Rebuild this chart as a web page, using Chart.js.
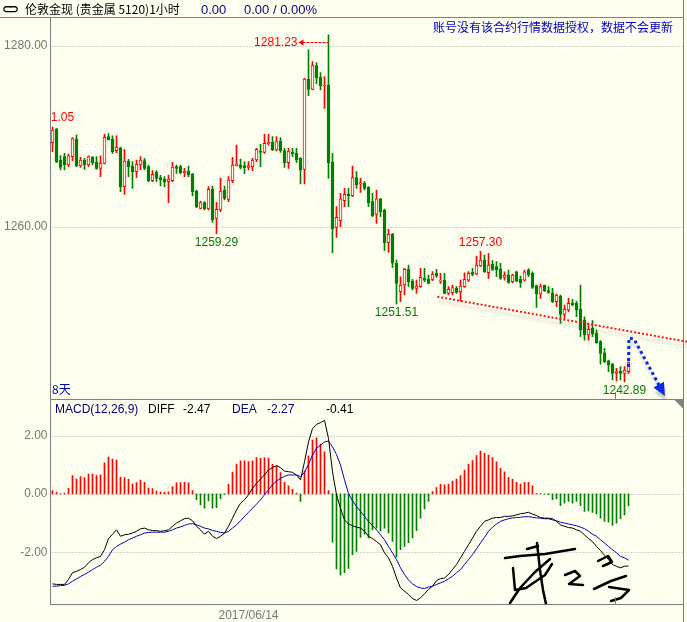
<!DOCTYPE html>
<html>
<head>
<meta charset="utf-8">
<script src="https://cdn.jsdelivr.net/npm/chart.js@4.4.0/dist/chart.umd.min.js"></script>
<style>
  html, body { margin: 0; padding: 0; background: #fffff0; }
  #wrap { position: relative; width: 687px; height: 622px; overflow: hidden; background: #fffff0; }
  canvas { position: absolute; left: 0; }
  .t { position: absolute; white-space: nowrap; line-height: 14px; font-size: 12px;
       font-family: "Liberation Sans", Arial, sans-serif; }
  .cjk { font-family: "Noto Sans CJK SC", sans-serif; }
</style>
</head>
<body>
<div id="wrap">
  <canvas id="priceChart" width="687" height="400" style="top:0"></canvas>
  <canvas id="macdChart" width="687" height="242" style="top:380px"></canvas>

  <div class="t" style="left:2px;top:2px;font-family:'DejaVu Sans';font-weight:bold;letter-spacing:-3px">⊂⊃</div>
  <div class="t cjk" style="left:25px;top:2px;color:#000">伦敦金现 (贵金属 5120)1小时</div>
  <div class="t" style="left:201px;top:3px;font-size:13px;color:#000080">0.00</div>
  <div class="t" style="left:244px;top:3px;font-size:13px;color:#000080">0.00 / 0.00%</div>
  <div class="t cjk" style="right:14px;top:20px;color:#0000c0">账号没有该合约行情数据授权，数据不会更新</div>
  <div class="t cjk" style="left:52px;top:382px;color:#0000c0">8天</div>

  <div class="t" style="left:55px;top:402px;color:#000080">MACD(12,26,9)</div>
  <div class="t" style="left:148px;top:402px;color:#000">DIFF</div>
  <div class="t" id="diffVal" style="left:183px;top:402px;color:#000"></div>
  <div class="t" style="left:232px;top:402px;color:#000080">DEA</div>
  <div class="t" id="deaVal" style="left:267px;top:402px;color:#000080"></div>
  <div class="t" id="macdVal" style="left:326px;top:402px;color:#000"></div>
</div>

<script>
// 1 hour candles, London gold
const opens = [1269.32,1270.83,1267.40,1267.77,1266.85,1267.77,1269.72,1266.74,1267.40,1266.85,
  1267.70,1267.18,1266.48,1267.03,1269.98,1269.72,1268.43,1268.73,1264.46,1267.29,
  1266.74,1266.11,1266.85,1267.33,1266.67,1265.12,1266.08,1265.45,1265.30,1265.01,
  1265.12,1266.67,1266.67,1266.00,1266.15,1265.86,1263.98,1262.06,1262.69,1261.99,
  1264.16,1260.96,1261.88,1264.09,1263.06,1265.12,1266.78,1266.85,1266.78,1266.59,
  1266.67,1267.40,1268.40,1268.25,1269.17,1269.36,1268.51,1269.50,1268.43,1267.11,
  1268.25,1268.14,1267.59,1266.37,1276.35,1275.21,1277.83,1276.54,1275.58,1275.69,
  1267.14,1259.96,1260.70,1262.91,1263.65,1263.46,1265.45,1264.75,1264.83,1264.38,
  1262.80,1261.40,1263.10,1261.88,1258.27,1259.20,1255.99,1252.85,1253.59,1255.32,
  1254.03,1253.22,1253.41,1254.33,1254.22,1254.22,1254.88,1254.03,1254.14,1252.67,
  1252.74,1253.22,1252.85,1253.41,1254.14,1254.99,1254.81,1255.69,1256.35,1254.95,
  1255.87,1255.62,1255.32,1254.44,1254.70,1253.96,1255.06,1254.22,1254.14,1255.25,
  1254.88,1253.52,1252.60,1253.59,1252.97,1252.74,1251.75,1252.38,1250.35,1250.83,
  1251.57,1251.57,1250.90,1249.72,1248.07,1248.80,1248.25,1247.33,1246.11,1245.23,
  1244.86,1243.83,1244.09,1243.83,1244.02];
const highs = [1271.05,1270.90,1267.88,1268.14,1268.07,1269.87,1270.17,1267.70,1267.59,1267.85,
  1267.77,1267.77,1267.85,1270.24,1270.31,1270.06,1270.06,1268.84,1268.58,1267.48,
  1267.22,1267.40,1267.77,1267.59,1266.85,1266.23,1266.23,1265.71,1265.56,1265.75,
  1267.14,1266.85,1266.85,1266.48,1266.74,1265.93,1264.09,1262.87,1262.80,1264.46,
  1264.53,1262.73,1265.38,1264.53,1265.56,1267.70,1269.06,1267.51,1267.22,1267.22,
  1267.59,1268.69,1269.13,1270.24,1270.24,1269.98,1269.98,1269.87,1268.69,1268.69,
  1268.69,1268.69,1267.66,1276.43,1279.56,1278.27,1278.16,1277.05,1276.61,1281.23,
  1268.14,1262.25,1263.72,1264.27,1264.27,1266.74,1266.11,1265.38,1265.01,1264.46,
  1263.72,1264.09,1263.17,1261.99,1259.74,1259.30,1256.35,1254.51,1255.43,1255.80,
  1254.22,1254.14,1255.43,1255.43,1254.70,1255.07,1255.32,1254.88,1254.88,1253.41,
  1253.59,1253.41,1254.14,1254.95,1255.07,1255.43,1256.80,1257.30,1256.91,1257.09,
  1256.28,1256.17,1255.99,1255.06,1255.25,1254.81,1255.14,1254.59,1255.25,1255.40,
  1255.06,1253.59,1253.70,1253.59,1253.41,1253.22,1252.60,1252.49,1251.38,1252.12,
  1252.01,1251.82,1253.59,1250.09,1249.36,1249.65,1248.62,1247.44,1246.59,1245.30,
  1244.93,1244.38,1244.57,1244.57,1245.12];
const lows = [1268.32,1267.11,1266.30,1266.30,1266.67,1267.33,1266.67,1266.59,1266.37,1266.67,
  1266.85,1266.37,1265.56,1266.96,1269.61,1268.14,1268.21,1263.90,1263.61,1265.56,
  1264.27,1265.45,1266.30,1266.30,1264.97,1265.01,1265.01,1264.53,1264.46,1262.69,
  1265.01,1265.93,1265.86,1265.56,1265.56,1263.43,1262.14,1261.99,1261.88,1261.88,
  1260.52,1259.29,1261.70,1262.98,1262.80,1264.90,1266.74,1266.41,1265.89,1266.30,
  1266.23,1267.22,1266.67,1268.14,1269.06,1268.43,1268.40,1268.25,1266.59,1266.48,
  1267.77,1267.11,1264.75,1264.75,1274.51,1275.14,1275.80,1275.14,1273.11,1265.38,
  1257.16,1258.86,1260.04,1262.25,1262.25,1263.35,1264.27,1263.83,1264.09,1262.25,
  1261.14,1260.41,1261.14,1257.38,1257.20,1255.50,1251.51,1251.75,1252.49,1253.41,
  1253.04,1252.67,1253.33,1253.96,1253.70,1254.07,1254.44,1253.78,1252.60,1252.49,
  1252.49,1252.67,1251.82,1253.33,1253.96,1254.59,1254.70,1255.62,1254.99,1254.33,
  1255.17,1254.51,1254.22,1254.14,1253.78,1253.85,1253.96,1253.33,1254.03,1254.51,
  1253.22,1251.12,1252.12,1252.85,1252.67,1251.64,1251.20,1249.36,1249.91,1250.65,
  1251.27,1250.09,1247.88,1247.51,1247.51,1247.88,1247.15,1244.86,1245.01,1244.02,
  1243.10,1243.00,1243.10,1242.89,1243.83];
const closes = [1270.72,1267.22,1266.59,1266.85,1267.85,1269.76,1266.74,1267.40,1266.85,1267.77,
  1267.11,1266.48,1267.03,1269.91,1269.61,1268.32,1268.84,1264.46,1267.29,1266.67,
  1266.11,1266.93,1267.40,1266.48,1265.08,1265.82,1265.38,1265.19,1265.01,1265.30,
  1266.63,1266.48,1266.00,1266.15,1265.75,1263.90,1262.25,1262.69,1261.99,1264.16,
  1260.77,1261.95,1263.98,1263.17,1265.19,1266.85,1266.96,1266.59,1266.56,1266.78,
  1267.40,1268.58,1268.25,1269.25,1269.36,1268.51,1269.50,1268.43,1267.11,1268.40,
  1268.07,1267.40,1266.30,1276.35,1275.21,1277.83,1276.50,1275.58,1275.69,1267.11,
  1259.78,1261.07,1263.10,1263.61,1263.46,1265.45,1264.64,1264.90,1264.27,1262.69,
  1261.25,1263.10,1261.70,1258.27,1259.19,1256.00,1253.78,1253.59,1255.32,1253.96,
  1253.22,1253.48,1254.44,1254.14,1253.78,1254.81,1254.59,1254.14,1252.67,1253.11,
  1253.30,1252.78,1253.48,1254.22,1254.88,1254.77,1255.80,1256.35,1255.06,1255.80,
  1255.32,1255.25,1254.33,1254.70,1253.89,1254.70,1254.03,1253.85,1255.06,1254.70,
  1253.33,1252.60,1253.41,1252.97,1252.78,1251.75,1252.49,1250.35,1250.90,1251.57,
  1251.38,1250.83,1248.62,1248.07,1248.69,1248.18,1247.22,1246.04,1245.12,1244.75,
  1243.83,1244.02,1243.83,1244.20,1245.01];

// MACD(12,26,9)
const diff = [-3.08,-3.10,-3.10,-3.10,-2.93,-2.70,-2.65,-2.59,-2.51,-2.36,
  -2.25,-2.19,-2.14,-1.91,-1.53,-1.38,-1.23,-1.45,-1.40,-1.38,
  -1.34,-1.28,-1.20,-1.17,-1.23,-1.25,-1.26,-1.28,-1.26,-1.23,
  -1.11,-1.00,-0.92,-0.85,-0.83,-0.92,-1.11,-1.23,-1.38,-1.28,
  -1.45,-1.53,-1.45,-1.34,-1.11,-0.83,-0.55,-0.32,-0.20,-0.03,
  0.19,0.36,0.51,0.65,0.82,0.90,0.97,0.90,0.78,0.76,
  0.74,0.65,0.48,1.10,1.78,2.24,2.38,2.44,2.52,1.90,
  0.76,-0.03,-0.49,-0.89,-1.03,-1.09,-1.14,-1.17,-1.28,-1.45,
  -1.53,-1.63,-1.74,-2.02,-2.19,-2.48,-2.88,-3.22,-3.33,-3.44,
  -3.58,-3.65,-3.56,-3.42,-3.27,-3.16,-2.97,-2.90,-2.88,-2.76,
  -2.59,-2.42,-2.19,-1.97,-1.74,-1.51,-1.28,-1.11,-0.94,-0.89,
  -0.83,-0.81,-0.81,-0.77,-0.77,-0.75,-0.72,-0.68,-0.66,-0.63,
  -0.69,-0.74,-0.81,-0.83,-0.83,-0.85,-0.94,-1.06,-1.11,-1.15,
  -1.17,-1.23,-1.28,-1.40,-1.53,-1.63,-1.80,-1.94,-2.10,-2.25,
  -2.42,-2.48,-2.53,-2.48,-2.47];
const dea = [-3.16,-3.16,-3.14,-3.13,-3.08,-2.99,-2.91,-2.83,-2.76,-2.68,
  -2.59,-2.51,-2.44,-2.31,-2.14,-1.91,-1.80,-1.72,-1.65,-1.57,
  -1.51,-1.45,-1.40,-1.34,-1.32,-1.31,-1.31,-1.31,-1.31,-1.28,
  -1.23,-1.17,-1.13,-1.08,-1.03,-1.02,-1.06,-1.11,-1.17,-1.20,
  -1.25,-1.28,-1.32,-1.34,-1.28,-1.17,-1.06,-0.92,-0.77,-0.63,
  -0.49,-0.35,-0.20,-0.03,0.14,0.31,0.44,0.53,0.60,0.65,
  0.65,0.65,0.59,0.74,1.01,1.33,1.56,1.67,1.78,1.81,
  1.61,1.35,0.99,0.48,0.02,-0.24,-0.43,-0.60,-0.77,-0.94,
  -1.08,-1.23,-1.40,-1.57,-1.80,-2.02,-2.25,-2.53,-2.76,-2.95,
  -3.08,-3.17,-3.22,-3.24,-3.19,-3.16,-3.10,-3.05,-2.99,-2.91,
  -2.82,-2.70,-2.59,-2.42,-2.25,-2.08,-1.88,-1.68,-1.49,-1.28,
  -1.14,-1.03,-0.94,-0.89,-0.85,-0.82,-0.81,-0.80,-0.78,-0.78,
  -0.80,-0.82,-0.83,-0.85,-0.85,-0.89,-0.92,-0.97,-1.00,-1.03,
  -1.06,-1.09,-1.14,-1.19,-1.28,-1.38,-1.45,-1.57,-1.68,-1.80,
  -1.91,-2.02,-2.14,-2.19,-2.27];
const macd = [0.11,0.05,0.01,0.03,0.19,0.63,0.51,0.59,0.56,0.68,
  0.68,0.63,0.65,1.06,1.26,1.19,1.16,0.58,0.56,0.50,
  0.34,0.39,0.47,0.40,0.20,0.18,0.10,0.07,0.06,0.07,
  0.25,0.38,0.39,0.40,0.38,0.11,-0.20,-0.38,-0.49,-0.24,
  -0.49,-0.47,-0.17,-0.02,0.33,0.75,1.02,1.13,1.13,1.11,
  1.13,1.24,1.22,1.24,1.23,1.01,0.95,0.73,0.40,0.28,
  0.16,0.03,-0.26,0.78,1.30,1.84,1.92,1.70,1.44,0.11,
  -1.65,-2.57,-2.78,-2.70,-2.55,-2.08,-1.97,-1.49,-1.38,-1.51,
  -1.23,-1.17,-1.28,-1.17,-1.34,-1.63,-2.17,-1.91,-1.80,-1.67,
  -1.51,-1.26,-0.83,-0.51,-0.26,0.08,0.22,0.33,0.31,0.33,
  0.44,0.51,0.63,0.82,1.02,1.14,1.31,1.47,1.39,1.33,
  1.24,1.10,0.88,0.76,0.57,0.51,0.40,0.34,0.40,0.40,
  0.28,0.02,0.01,-0.01,-0.03,-0.20,-0.17,-0.40,-0.32,-0.26,
  -0.32,-0.26,-0.40,-0.60,-0.58,-0.63,-0.69,-0.83,-0.94,-0.97,
  -1.08,-1.00,-0.85,-0.72,-0.41];

const priceTicks = [1260, 1280];
const macdTicks = [-2, 0, 2];
const dateLabel = '2017/06/14';
const dateIndex = 49;
const cursorIndex = 140.5;
const slots = 158;
// candles whose high / low are written on the chart
const marks = [[0, 'high'], [41, 'low'], [69, 'high'], [86, 'low'], [107, 'high'], [143, 'low']];
// hand drawn lines, in (candle index, price)
const trendLine = [[96.2, 1252.30], [158.6, 1247.33]];
const arrowPath = [[144.0, 1244.53], [144.1, 1247.73], [145.4, 1247.62], [153.1, 1241.33]];
// handwritten signature strokes on the MACD pane, canvas pixels
const signature = [
  [[505, 558], [520, 556], [545, 554], [575, 549]],
  [[537, 543], [540, 570], [543, 590], [546, 604]],
  [[510, 603], [520, 588], [535, 572], [550, 559]],
  [[513, 568], [515, 590], [526, 588], [545, 575], [552, 564]],
  [[527, 549], [538, 546]],
  [[565, 575], [575, 571], [580, 576], [569, 584], [583, 585]],
  [[598, 561], [608, 556], [612, 562], [603, 566]],
  [[594, 589], [611, 581], [626, 576]],
  [[609, 587], [629, 590], [621, 598], [611, 601]]
];

const BG = '#fffff0';
const UP = '#ff0000';
const DOWN = '#008000';
const FRAME = '#808080';
const GRID = '#a8a8a8';
const AXIS_FONT = { family: 'Liberation Sans', size: 12 };

const slotLabels = Array.from({ length: slots }, (_, i) => i);
const isUp = closes.map((c, i) => c >= opens[i]);

function hline(ctx, x1, x2, y) { ctx.beginPath(); ctx.moveTo(x1, y); ctx.lineTo(x2, y); ctx.stroke(); }
function vline(ctx, x, y1, y2) { ctx.beginPath(); ctx.moveTo(x, y1); ctx.lineTo(x, y2); ctx.stroke(); }

function drawDotGrid(chart, ticks) {
  const { ctx, chartArea: a, scales: { y } } = chart;
  ctx.save();
  ctx.strokeStyle = GRID;
  ctx.lineWidth = 1;
  ctx.setLineDash([1, 2]);
  ticks.forEach(v => hline(ctx, a.left + 1, a.right, Math.round(y.getPixelForValue(v)) + 0.5));
  ctx.restore();
}

const priceDecor = {
  id: 'priceDecor',
  beforeDatasetsDraw(chart) { drawDotGrid(chart, priceTicks); },
  afterDatasetsDraw(chart) {
    const { ctx, chartArea: a, scales: { x, y } } = chart;
    const maxHigh = Math.max(...highs);

    // high / low labels
    ctx.save();
    ctx.beginPath();
    ctx.rect(a.left + 1, a.top, a.right - a.left, a.bottom - a.top);
    ctx.clip();
    ctx.font = '12px "Liberation Sans"';
    ctx.textBaseline = 'middle';
    marks.forEach(([i, kind]) => {
      const v = kind === 'high' ? highs[i] : lows[i];
      const px = x.getPixelForValue(i);
      const py = y.getPixelForValue(v);
      if (kind === 'high' && v === maxHigh) {
        const ly = Math.round(py + 7.5) + 0.5;
        ctx.fillStyle = UP;
        ctx.strokeStyle = UP;
        ctx.textAlign = 'right';
        ctx.fillText(v.toFixed(2), px - 31, ly);
        ctx.setLineDash([3, 1]);
        ctx.lineWidth = 1;
        hline(ctx, px - 26, px, ly);
        ctx.setLineDash([]);
        ctx.beginPath();
        ctx.moveTo(px - 30, ly);
        ctx.lineTo(px - 25, ly - 3);
        ctx.lineTo(px - 25, ly + 3);
        ctx.closePath();
        ctx.fill();
      } else if (kind === 'high') {
        ctx.fillStyle = UP;
        ctx.textAlign = 'center';
        ctx.fillText(v.toFixed(2), px, py - 9);
      } else {
        ctx.fillStyle = '#0a780a';
        ctx.textAlign = 'center';
        ctx.fillText(v.toFixed(2), px, py + 9);
      }
    });
    ctx.restore();

    // red dotted trend line
    ctx.save();
    ctx.shadowColor = 'rgba(0,0,0,0.22)';
    ctx.shadowBlur = 3;
    ctx.shadowOffsetX = 1;
    ctx.shadowOffsetY = 5;
    ctx.strokeStyle = '#ff1010';
    ctx.lineWidth = 2;
    ctx.setLineDash([2, 2]);
    ctx.beginPath();
    trendLine.forEach(([i, v], k) => {
      const px = x.getPixelForValue(i), py = y.getPixelForValue(v);
      if (k === 0) ctx.moveTo(px, py); else ctx.lineTo(px, py);
    });
    ctx.stroke();

    // blue dotted arrow
    ctx.strokeStyle = '#0a2ae8';
    ctx.fillStyle = '#0a2ae8';
    ctx.lineWidth = 3;
    ctx.setLineDash([3, 3]);
    const pts = arrowPath.map(([i, v]) => [x.getPixelForValue(i), y.getPixelForValue(v)]);
    const tip = pts[pts.length - 1];
    const prev = pts[pts.length - 2];
    const len = Math.hypot(tip[0] - prev[0], tip[1] - prev[1]);
    const ux = (tip[0] - prev[0]) / len, uy = (tip[1] - prev[1]) / len;
    ctx.beginPath();
    pts.slice(0, -1).forEach(([px, py], k) => { if (k === 0) ctx.moveTo(px, py); else ctx.lineTo(px, py); });
    ctx.lineTo(tip[0] - ux * 12, tip[1] - uy * 12);
    ctx.stroke();
    ctx.setLineDash([]);
    ctx.beginPath();
    ctx.moveTo(tip[0], tip[1]);
    ctx.lineTo(tip[0] - ux * 13 - uy * 6, tip[1] - uy * 13 + ux * 6);
    ctx.lineTo(tip[0] - ux * 13 + uy * 6, tip[1] - uy * 13 - ux * 6);
    ctx.closePath();
    ctx.fill();
    ctx.restore();

    // frame
    ctx.save();
    ctx.strokeStyle = FRAME;
    ctx.lineWidth = 1;
    const r = Math.round(a.right) + 0.5;
    hline(ctx, 0, r + 0.5, a.top + 0.5);
    vline(ctx, a.left, a.top, chart.height);
    vline(ctx, r, 0, chart.height);
    hline(ctx, a.left, r, a.bottom + 0.5);
    const cx = Math.round(x.getPixelForValue(cursorIndex)) + 0.5;
    vline(ctx, cx, a.bottom - 7, a.bottom);
    ctx.restore();
  }
};

const macdDecor = {
  id: 'macdDecor',
  beforeDatasetsDraw(chart) { drawDotGrid(chart, macdTicks); },
  afterDatasetsDraw(chart) {
    const { ctx, chartArea: a, scales: { x } } = chart;
    const top = chart.canvas.offsetTop;

    // signature
    ctx.save();
    ctx.strokeStyle = '#000';
    ctx.lineWidth = 2.5;
    ctx.lineJoin = 'round';
    ctx.lineCap = 'round';
    signature.forEach(stroke => {
      ctx.beginPath();
      stroke.forEach(([px, py], k) => { if (k === 0) ctx.moveTo(px, py - top); else ctx.lineTo(px, py - top); });
      ctx.stroke();
    });
    ctx.restore();

    ctx.save();
    ctx.strokeStyle = FRAME;
    ctx.lineWidth = 1;
    const r = Math.round(a.right) + 0.5;
    vline(ctx, a.left, a.top, a.bottom + 1);
    hline(ctx, a.left, r, a.bottom + 0.5);
    vline(ctx, r, 0, chart.height);
    const cx = Math.round(x.getPixelForValue(cursorIndex)) + 0.5;
    vline(ctx, cx, a.bottom - 7, a.bottom);
    ctx.fillStyle = FRAME;
    ctx.beginPath();
    ctx.moveTo(r - 10, a.top);
    ctx.lineTo(r, a.top);
    ctx.lineTo(r, a.top + 10);
    ctx.closePath();
    ctx.fill();
    ctx.restore();
  }
};

const fixedYAxis = s => { s.width = 50.5; s.paddingTop = 0; s.paddingBottom = 0; };

new Chart(document.getElementById('priceChart'), {
  type: 'bar',
  data: {
    labels: slotLabels,
    datasets: [
      {
        label: 'body',
        data: opens.map((o, i) => [o, closes[i]]),
        backgroundColor: isUp.map(u => u ? BG : DOWN),
        borderColor: isUp.map(u => u ? UP : DOWN),
        borderWidth: 1,
        borderSkipped: false,
        barThickness: 3,
        minBarLength: 1,
        grouped: false
      },
      {
        label: 'wick',
        data: lows.map((l, i) => [l, highs[i]]),
        backgroundColor: isUp.map(u => u ? UP : DOWN),
        borderWidth: 0,
        barThickness: 1,
        minBarLength: 1,
        grouped: false
      }
    ]
  },
  options: {
    responsive: false,
    animation: false,
    events: [],
    layout: { padding: { top: 17, right: 4.5, bottom: 1, left: 0 } },
    plugins: { legend: { display: false }, tooltip: { enabled: false } },
    scales: {
      x: { type: 'category', display: false },
      y: {
        position: 'left',
        min: 1241.0,
        max: 1283.2,
        afterFit: fixedYAxis,
        afterBuildTicks: s => { s.ticks = priceTicks.map(v => ({ value: v })); },
        ticks: { callback: v => v.toFixed(2), color: '#777', font: AXIS_FONT, padding: 3 },
        grid: { display: false, drawTicks: false },
        border: { display: false }
      }
    }
  },
  plugins: [priceDecor]
});

new Chart(document.getElementById('macdChart'), {
  type: 'bar',
  data: {
    labels: slotLabels,
    datasets: [
      { type: 'line', label: 'DIFF', data: diff, borderColor: '#000', borderWidth: 1, pointRadius: 0, tension: 0 },
      { type: 'line', label: 'DEA', data: dea, borderColor: '#0000c0', borderWidth: 1, pointRadius: 0, tension: 0 },
      {
        label: 'MACD',
        data: macd,
        backgroundColor: macd.map(v => v >= 0 ? UP : DOWN),
        borderWidth: 0,
        barThickness: 1,
        grouped: false
      }
    ]
  },
  options: {
    responsive: false,
    animation: false,
    events: [],
    layout: { padding: { top: 19, right: 4.5, bottom: 0, left: 0 } },
    plugins: { legend: { display: false }, tooltip: { enabled: false } },
    scales: {
      x: {
        type: 'category',
        afterFit: s => { s.height = 18; s.paddingLeft = 0; s.paddingRight = 0; },
        ticks: {
          autoSkip: false,
          maxRotation: 0,
          padding: 4,
          color: '#777',
          font: AXIS_FONT,
          callback: (v, i) => i === dateIndex ? dateLabel : ''
        },
        grid: { display: false, drawTicks: false },
        border: { display: false }
      },
      y: {
        position: 'left',
        min: -3.77,
        max: 3.25,
        afterFit: fixedYAxis,
        afterBuildTicks: s => { s.ticks = macdTicks.map(v => ({ value: v })); },
        ticks: { callback: v => v.toFixed(2), color: '#777', font: AXIS_FONT, padding: 3 },
        grid: { display: false, drawTicks: false },
        border: { display: false }
      }
    }
  },
  plugins: [macdDecor]
});

document.getElementById('diffVal').textContent = diff[diff.length - 1].toFixed(2);
document.getElementById('deaVal').textContent = dea[dea.length - 1].toFixed(2);
document.getElementById('macdVal').textContent = macd[macd.length - 1].toFixed(2);
</script>
</body>
</html>
